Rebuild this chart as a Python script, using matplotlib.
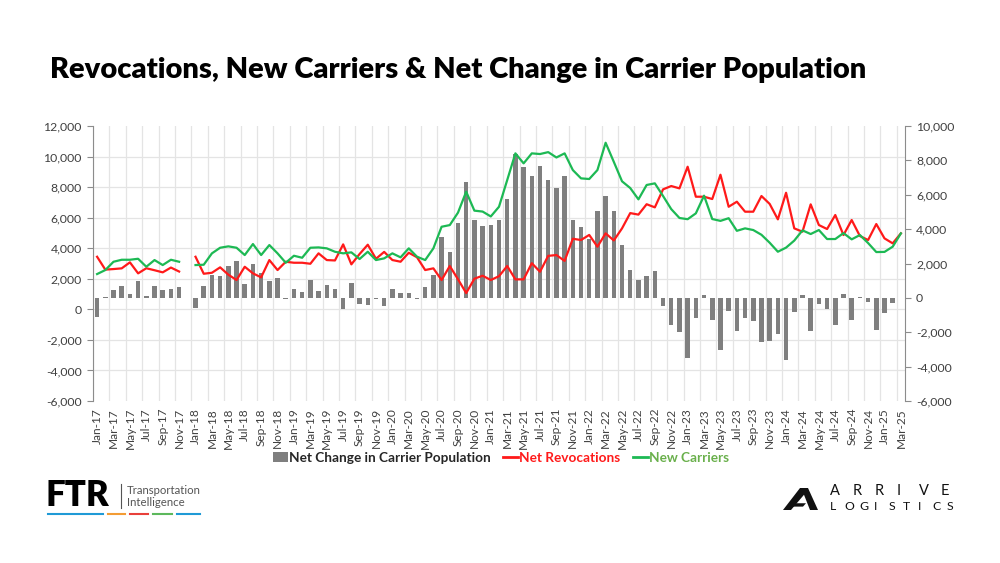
import numpy as np
import pandas as pd
import matplotlib
matplotlib.use("Agg")
import matplotlib.pyplot as plt
from matplotlib.lines import Line2D
from matplotlib.patches import Patch, Polygon
from matplotlib.ticker import FuncFormatter, FixedLocator

plt.rcParams['font.family'] = ['Lato', 'DejaVu Sans']

nan = np.nan

# monthly categories Jan-17 .. Mar-25 (Dec-17 has no data)
months = pd.date_range('2017-01-01', periods=99, freq='MS').strftime('%b-%y').tolist()

new_carriers = [
    2310, 2572, 3115, 3246, 3246, 3311, 2788, 3226, 2899, 3246, 3115, nan,
    2899, 2920, 3665, 4032, 4123, 4032, 3554, 4274, 3554, 4208, 3665, 3050,
    3508, 3377, 4032, 4054, 3992, 3770, 3665, 3730, 3294, 3770, 3226, 3337,
    3665, 3403, 3992, 3446, 3226, 3992, 5406, 5515, 6330, 7700, 6460, 6400,
    6080, 6715, 8460, 10210, 9555, 10209, 10165, 10290, 9940, 10209, 9117, 8573,
    8530, 9117, 10904, 9650, 8380, 7940, 7199, 8140, 8246, 7420, 6560, 5980,
    5900, 6283, 7440, 5911, 5790, 5965, 5140, 5300, 5191, 4880, 4360, 3771,
    4040, 4500, 5170, 4929, 5191, 4602, 4602, 4990, 4581, 4864, 4340, 3750,
    3760, 4101, 4973,
]

net_revocations = [
    3442, 2600, 2637, 2683, 3076, 2356, 2690, 2560, 2421, 2735, 2475, nan,
    3442, 2330, 2395, 2749, 2270, 1918, 2788, 2356, 2094, 3226, 2572, 3115,
    3050, 3050, 2984, 3665, 3226, 3200, 4252, 2945, 3619, 4230, 3310, 3760,
    3228, 3117, 3706, 3410, 2573, 2683, 1919, 2835, 1970, 1066, 2007, 2200,
    1919, 2170, 2835, 1963, 1963, 3020, 2462, 3500, 3555, 3170, 4620, 4537,
    4870, 4100, 4974, 4510, 5300, 6300, 6200, 6880, 6675, 7853, 8071, 7918,
    9334, 7372, 7372, 7220, 8810, 6715, 7045, 6391, 6391, 7417, 6900, 5890,
    7631, 5300, 5082, 6871, 5518, 5257, 6174, 4864, 5846, 4799, 4537, 5583,
    4646, 4319, 4974,
]

net_change = [
    -1100, 80, 450, 700, 215, 1010, 120, 700, 485, 505, 640, nan,
    -600, 680, 1340, 1280, 1830, 2155, 796, 1960, 1430, 980, 1135, -50,
    500, 360, 1040, 400, 760, 510, -620, 850, -330, -430, -60, -460,
    505, 290, 300, -70, 640, 1320, 3550, 2680, 4368, 6717, 4523, 4193,
    4232, 4523, 5747, 8350, 7590, 7105, 7688, 6853, 6390, 7085, 4523, 4135,
    3455, 5047, 5920, 5066, 3067, 1650, 1029, 1262, 1572, -500, -1592, -1980,
    -3474, -1145, 145, -1300, -3047, -776, -1921, -1145, -1350, -2562, -2523, -2116,
    -3590, -815, 155, -1921, -330, -621, -1553, 200, -1300, 40, -233, -1860,
    -890, -280, 0,
]

BAR_COLOR = '#7f7f7f'
RED = '#ff1a1a'
GREEN = '#1db954'
GRID = '#e4e4e4'
TICK_COLOR = '#404040'

fig = plt.figure(figsize=(10, 5.63), dpi=100)
ax = fig.add_axes([0.093, 0.2877, 0.812, 0.4885])

x = np.arange(len(months))

# bars on the right-hand scale
ax.bar(x, net_change, width=0.55, color=BAR_COLOR, zorder=2)
ax.set_xlim(-0.5, len(months) - 0.5)
ax.set_ylim(-6000, 10000)

# lines on the left-hand scale, drawn above the bars
axl = ax.twinx()
axl.plot(x, net_revocations, color=RED, lw=1.6)
axl.plot(x, new_carriers, color=GREEN, lw=1.6)
axl.set_ylim(-6000, 12000)

ax.yaxis.tick_right()
axl.yaxis.tick_left()

fmt = FuncFormatter(lambda v, p: f'{int(v):,}')
ax.set_yticks(range(-6000, 10001, 2000))
ax.yaxis.set_major_formatter(fmt)
axl.set_yticks(range(-6000, 12001, 2000))
axl.yaxis.set_major_formatter(fmt)

# horizontal grid follows the left scale
left_ticks = np.arange(-6000, 12001, 2000)
grid_pos = -6000 + (left_ticks + 6000) / 18000 * 16000
ax.yaxis.set_minor_locator(FixedLocator(grid_pos))
ax.xaxis.set_minor_locator(FixedLocator(x[::2] - 0.5))
ax.grid(which='minor', axis='both', color=GRID, lw=0.9)
ax.set_axisbelow(True)

ax.set_xticks(x[::2])
ax.set_xticklabels(months[::2], rotation=90, fontsize=8.6, color=TICK_COLOR)
ax.tick_params(axis='x', which='both', length=0, pad=5)
ax.tick_params(axis='y', which='minor', length=0)
ax.tick_params(axis='y', which='major', length=4, color='#8c8c8c', labelsize=8.8,
               labelcolor=TICK_COLOR, pad=4)
axl.tick_params(axis='y', length=4, color='#8c8c8c', labelsize=8.8,
                labelcolor=TICK_COLOR, pad=4)

for s in ['top', 'bottom', 'left']:
    ax.spines[s].set_visible(False)
for s in ['top', 'bottom', 'right']:
    axl.spines[s].set_visible(False)
ax.spines['right'].set_color('#8c8c8c')
axl.spines['left'].set_color('#8c8c8c')

# title
fig.text(0.05, 1 - 70 / 563, 'Revocations, New Carriers & Net Change in Carrier Population',
         fontsize=21, fontweight='heavy', color='black', va='center', ha='left')

# legend
handles = [Patch(facecolor=BAR_COLOR), Line2D([], [], color=RED, lw=2),
           Line2D([], [], color=GREEN, lw=2)]
labels = ['Net Change in Carrier Population', 'Net Revocations', 'New Carriers']
leg = fig.legend(handles, labels, loc='center', bbox_to_anchor=(0.501, 1 - 458 / 563),
                 ncol=3, frameon=False, prop={'weight': 'bold', 'size': 9.8},
                 handlelength=1.1, handletextpad=0.1, columnspacing=0.9)
for t, c in zip(leg.get_texts(), ['#262626', RED, '#6ab04c']):
    t.set_color(c)

# FTR logo
fig.text(0.046, 1 - 496 / 563, 'FTR', fontsize=25, fontweight='heavy', color='black',
         va='center', ha='left')
fig.add_artist(Line2D([0.121, 0.121], [1 - 484 / 563, 1 - 508 / 563], color='#555555', lw=0.8))
fig.text(0.127, 1 - 490 / 563, 'Transportation', fontsize=8.2, color='#555555', va='center')
fig.text(0.127, 1 - 502 / 563, 'Intelligence', fontsize=8.2, color='#555555', va='center')
seg_cols = ['#1f9ad6', '#f39c34', '#e8403a', '#5cb85c', '#1f9ad6']
seg_x = [(0.048, 0.103), (0.108, 0.125), (0.130, 0.148), (0.153, 0.172), (0.177, 0.200)]
for (a, b), c in zip(seg_x, seg_cols):
    fig.add_artist(Line2D([a, b], [1 - 514 / 563] * 2, color=c, lw=1.5))

# Arrive Logistics logo
ya, yb = 1 - 510 / 563, 1 - 488 / 563
fig.add_artist(Polygon([[0.783, ya], [0.800, yb], [0.808, yb], [0.818, ya], [0.810, ya],
                        [0.804, yb - 0.012], [0.791, ya]], closed=True,
                       facecolor='#111111', edgecolor='none', transform=fig.transFigure))
fig.add_artist(Polygon([[0.790, ya + 0.012], [0.806, ya + 0.012], [0.803, ya + 0.006],
                        [0.787, ya + 0.006]], closed=True, facecolor='#111111',
                       edgecolor='none', transform=fig.transFigure))
for k, ch in enumerate('ARRIVE'):
    fig.text(0.830 + k * 0.0222, 1 - 491 / 563, ch, fontsize=10.5, color='#111111',
             va='center', ha='left')
for k, ch in enumerate('LOGISTICS'):
    fig.text(0.830 + k * 0.0146, 1 - 506 / 563, ch, fontsize=8.8, color='#111111',
             va='center', ha='left')

fig.savefig('out.png', dpi=100)
